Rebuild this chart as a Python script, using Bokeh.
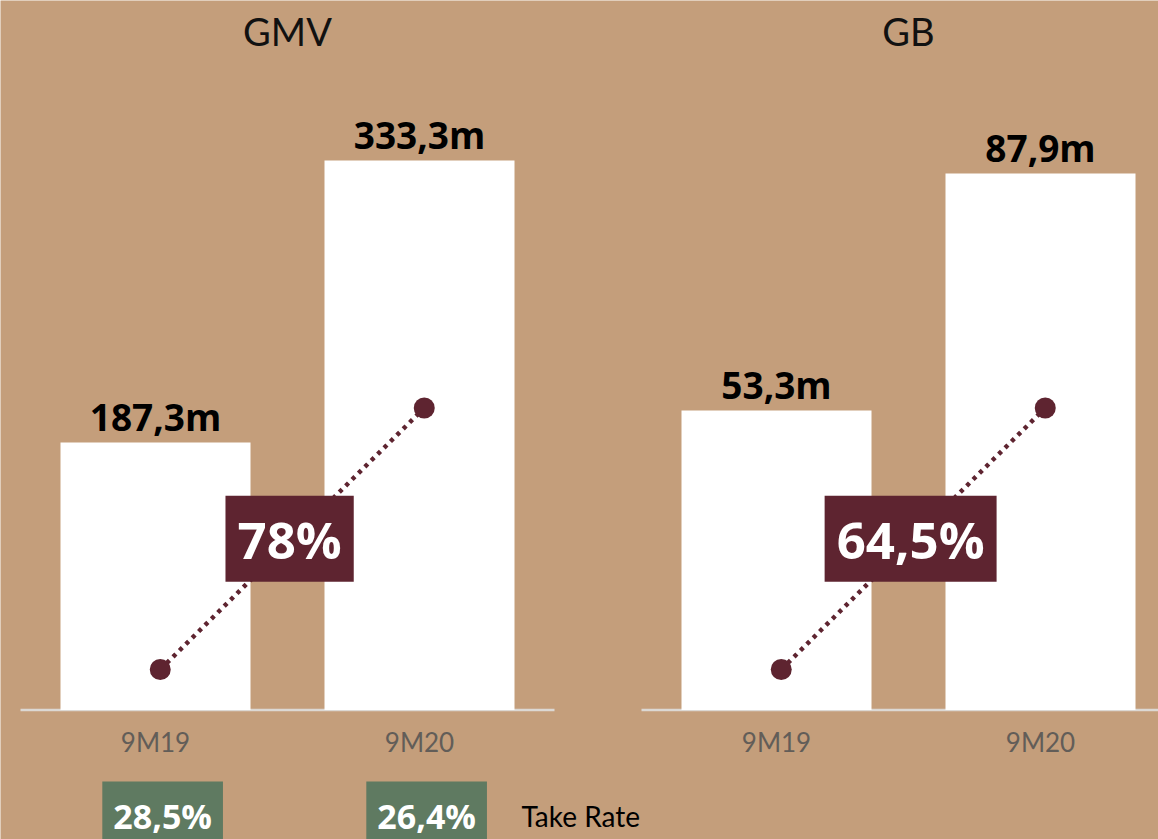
from bokeh.plotting import figure
from bokeh.models import Range1d
from bokeh.core.properties import value
from bokeh.embed import file_html
from bokeh.resources import INLINE

# ---------------- data ----------------
periods = ["9M19", "9M20"]
panel_titles = ["GMV", "GB"]
gmv_values = [187.3, 333.3]
gb_values = [53.3, 87.9]
gmv_labels = ["187,3m", "333,3m"]
gb_labels = ["53,3m", "87,9m"]
growth_labels = ["78%", "64,5%"]
take_rate_labels = ["28,5%", "26,4%"]
take_rate_title = "Take Rate"
# level from which the bars of each panel start (non-zero baseline)
gmv_floor = 48.8
gb_floor = 9.6

# ---------------- style / layout ----------------
BG = "#c49e7b"
MAROON = "#5e2430"
GREEN = "#5f7a61"
AXIS_GREY = "#dcd8d3"
LABEL_GREY = "#625d58"
BOLD_FONT = value("Open Sans")
LIGHT_FONT = value("Lato")

W, H = 1158, 839        # figure size
OX, OY = 0, 0           # page offset of the figure
STEP = 264              # px between category centres
BAR_W = 190 / STEP      # bar width in category units
BASE_PX = 709.5         # baseline (px from top)
LEFT_C0, RIGHT_C0 = 155, 776     # px centre of first category per panel
TOP_PX = {"gmv": 160, "gb": 173}  # px top of tallest bar per panel

panels = {
    "gmv": dict(values=gmv_values, labels=gmv_labels, floor=gmv_floor, c0=LEFT_C0,
                title=panel_titles[0], growth=growth_labels[0]),
    "gb": dict(values=gb_values, labels=gb_labels, floor=gb_floor, c0=RIGHT_C0,
               title=panel_titles[1], growth=growth_labels[1]),
}

for key, pnl in panels.items():
    pnl["scale"] = (BASE_PX - TOP_PX[key]) / (max(pnl["values"]) - pnl["floor"])


def ypx(pnl, py):
    return pnl["floor"] + (BASE_PX - py) / pnl["scale"]


def xpx(pnl, px):
    return (px - pnl["c0"]) / STEP


p = figure(width=W, height=H, output_backend="svg", toolbar_location=None,
           x_axis_location=None, y_axis_location=None, min_border=0,
           background_fill_color=BG, border_fill_color=BG, outline_line_color=None,
           x_range=Range1d(xpx(panels["gmv"], OX), xpx(panels["gmv"], OX + W)),
           y_range=Range1d(ypx(panels["gmv"], OY + H), ypx(panels["gmv"], OY)))
p.xgrid.visible = False
p.ygrid.visible = False
p.extra_x_ranges = {"gb": Range1d(xpx(panels["gb"], OX), xpx(panels["gb"], OX + W))}
p.extra_y_ranges = {"gb": Range1d(ypx(panels["gb"], OY + H), ypx(panels["gb"], OY))}

xs = list(range(len(periods)))
DOT_DX = 0.018
half = 135 / STEP

for key, pnl in panels.items():
    rn = dict(x_range_name="default" if key == "gmv" else "gb",
              y_range_name="default" if key == "gmv" else "gb")
    fl = pnl["floor"]
    # baseline
    p.segment(x0=[-half], y0=[fl], x1=[xs[-1] + half], y1=[fl],
              line_color=AXIS_GREY, line_width=2.5, **rn)
    # bars
    p.vbar(x=xs, top=pnl["values"], bottom=fl, width=BAR_W,
           fill_color="white", line_color=None, **rn)
    # value labels
    p.text(x=xs, y=pnl["values"], text=pnl["labels"], text_align="center",
           text_baseline="alphabetic", y_offset=-26, text_font=BOLD_FONT,
           text_font_style="bold", text_font_size="37px", text_color="black", **rn)
    # title
    p.text(x=[(xs[0] + xs[-1]) / 2], y=[ypx(pnl, 30)], text=[pnl["title"]],
           text_align="center", text_baseline="middle", text_font=LIGHT_FONT,
           text_font_size="38px", text_color="#111111", **rn)
    # category labels
    p.text(x=xs, y=[ypx(pnl, 741)] * len(xs), text=periods, text_align="center",
           text_baseline="middle", text_font=LIGHT_FONT, text_font_size="26px",
           text_color=LABEL_GREY, **rn)
    # growth connector
    dx = [xs[0] + DOT_DX, xs[-1] + DOT_DX]
    dy = [ypx(pnl, 669), ypx(pnl, 407.5)]
    p.line(x=dx, y=dy, line_color=MAROON, line_width=4.5, line_dash="4 5", **rn)
    p.scatter(x=dx, y=dy, size=21, fill_color=MAROON, line_color=None, **rn)
    p.text(x=[sum(dx) / 2 - 0.01], y=[sum(dy) / 2], text=[pnl["growth"]],
           text_align="center", text_baseline="middle", text_font=BOLD_FONT,
           text_font_style="bold", text_font_size="51px", text_color="white",
           background_fill_color=MAROON,
           padding=dict(left=12, right=12, top=8, bottom=8), **rn)

# take rate row (GMV panel)
g = panels["gmv"]
p.text(x=[x + 0.027 for x in xs], y=[ypx(g, 815)] * len(xs), text=take_rate_labels,
       text_align="center", text_baseline="middle", text_font=BOLD_FONT,
       text_font_style="bold", text_font_size="34px", text_color="white",
       background_fill_color=GREEN,
       padding=dict(left=11, right=11, top=11, bottom=11))
p.text(x=[xpx(g, 521)], y=[ypx(g, 815)], text=[take_rate_title], text_align="left",
       text_baseline="middle", text_font=LIGHT_FONT, text_font_size="28px",
       text_color="black")

open("out.html", "w").write(file_html(p, INLINE))
